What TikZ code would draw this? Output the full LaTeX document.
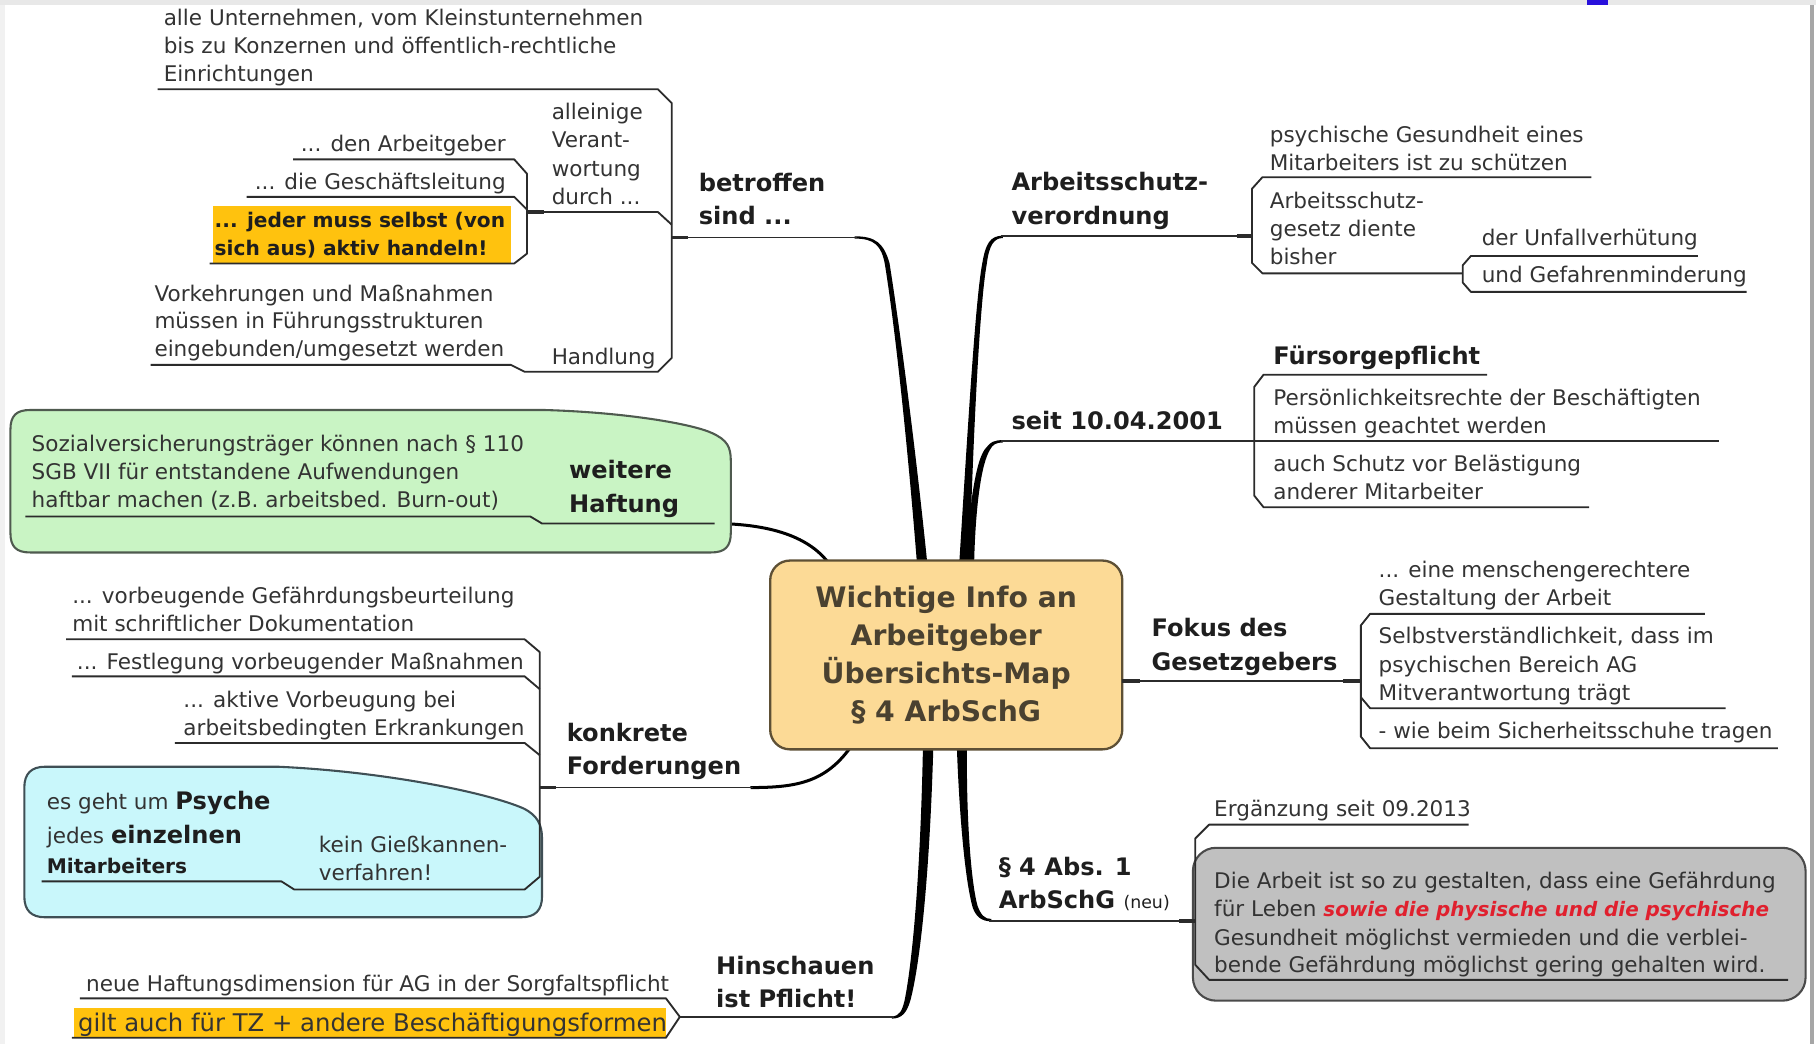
\documentclass[tikz,border=0pt]{standalone}
\usepackage{fontspec}
\setmainfont{DejaVu Sans}
\usetikzlibrary{backgrounds}
\definecolor{txt}{HTML}{333333}
\definecolor{hd}{HTML}{1E1E1E}
\definecolor{ln}{HTML}{2B2B2B}
\definecolor{cfill}{HTML}{FCDA96}
\definecolor{cborder}{HTML}{5E5035}
\definecolor{ctext}{HTML}{4A4130}
\definecolor{greenfill}{HTML}{C9F4C4}
\definecolor{greenline}{HTML}{4F5A4F}
\definecolor{cyanfill}{HTML}{C9F7FB}
\definecolor{cyanline}{HTML}{3F4F55}
\definecolor{grayfill}{HTML}{C0C0C0}
\definecolor{grayline}{HTML}{4A4A4A}
\definecolor{yellowhl}{HTML}{FFC20E}
\definecolor{redtxt}{HTML}{E0202E}
\definecolor{framegray}{HTML}{E8E8E8}
\definecolor{markblue}{HTML}{2810DC}
\newcommand\hdfont{\fontsize{10.4}{14}\selectfont\bfseries}
\newcommand\tdots{...}
\newcommand\tlines[6]{\foreach \ln [count=\k] in {#6}{\node[#2] (#1\k) at (#3,{#4+(\k-1)*#5}) {\ln};}}
\tikzset{
  body/.style={inner sep=0pt, anchor=base west, font=\fontsize{9.3}{12}\selectfont, text=txt},
  bodyb/.style={inner sep=0pt, anchor=base west, font=\fontsize{8.7}{12}\selectfont\bfseries, text=hd},
  head/.style={inner sep=0pt, anchor=base west, font=\hdfont, text=hd},
  uline/.style={line width=0.8pt, draw=ln, line join=round},
  stub/.style={line width=1.6pt, draw=ln},
  branch/.style={fill=black},
  thinbranch/.style={line width=1.3pt, draw=black},
  central/.style={draw=cborder, fill=cfill, line width=1pt, rounded corners=8.5pt,
    minimum width=152pt, minimum height=81.5pt, align=center, text=ctext,
    font=\fontsize{12.2}{16.5}\selectfont\bfseries},
}
\begin{document}
\begin{tikzpicture}[x=0.5pt,y=-0.5pt]
\useasboundingbox (0,0) rectangle (1568,901);
% frame
\fill[framegray] (0,0) rectangle (1568,4);
\fill[framegray!60] (0,4) rectangle (4,901);
\fill[markblue] (1370,0) rectangle (1388,4);
\fill[gray!70] (1563,4) rectangle (1566,901);

% central node
\node[central] (center) at (817,565.5) {Wichtige Info an\\Arbeitgeber\\Übersichts-Map\\§ 4 ArbSchG};

% callout shapes
\path[draw=greenline, fill=greenfill, line width=0.9pt] (26,354) -- (470,354) .. controls (540,356) and (598,366) .. (615,374) .. controls (628,380) and (631,386) .. (631,398) -- (631,460) .. controls (631,472) and (626,477) .. (614,477) -- (26,477) .. controls (14,477) and (9,472) .. (9,460) -- (9,371) .. controls (9,359) and (14,354) .. (26,354) -- cycle;
\path[draw=cyanline, fill=cyanfill, line width=0.9pt] (39,662) -- (240,662) .. controls (330,666) and (420,684) .. (452,698) .. controls (464,704) and (468,712) .. (468,724) -- (468,774) .. controls (468,786) and (462,792) .. (450,792) -- (39,792) .. controls (27,792) and (21,786) .. (21,774) -- (21,680) .. controls (21,668) and (27,662) .. (39,662) -- cycle;
\path[draw=grayline, fill=grayfill, line width=0.9pt, rounded corners=10pt] (1030,732) rectangle (1559,864);
\fill[yellowhl] (184,178) rectangle (441,228);
\fill[yellowhl] (64,870) rectangle (575,895);

% branches (behind central node)
\begin{scope}[on background layer]
\path[branch] (738,204) .. controls (756,204) and (763,210) .. (768,227) .. controls (778,290) and (792,400) .. (801,490) -- (792,490) .. controls (785,400) and (774,290) .. (764,228) .. controls (761,212) and (755,206) .. (738,206) -- cycle;
\path[branch] (828,490) .. controls (835,380) and (842,260) .. (848,228) .. controls (851,210) and (855,203.5) .. (866,203.5) -- (866,205.5) .. controls (858,205.5) and (854,212) .. (852,228) .. controls (846,260) and (840,380) .. (837,490) -- cycle;
\path[branch] (833,490) .. controls (837,440) and (842,395) .. (852,386) .. controls (855,382) and (858,380) .. (866,380) -- (866,382) .. controls (860,382) and (857,384) .. (855,388) .. controls (847,400) and (842,440) .. (841,490) -- cycle;
\path[branch] (797,640) .. controls (795,750) and (788,830) .. (781,864) .. controls (779,872) and (777,877.5) .. (770,877.5) -- (770,879.5) .. controls (779,879.5) and (783,874) .. (786,864) .. controls (795,830) and (803,750) .. (806,640) -- cycle;
\path[branch] (826,640) .. controls (828,700) and (833,760) .. (840,784) .. controls (843,792) and (848,795.5) .. (856,795.5) -- (856,793.5) .. controls (850,793.5) and (847,790) .. (844,782) .. controls (838,760) and (834,700) .. (835,640) -- cycle;
\draw[thinbranch] (615,452) .. controls (670,452) and (703,466) .. (718,490);
\draw[thinbranch] (648,680) .. controls (690,680) and (715,675) .. (738,640);
\end{scope}

% underline structures: betroffen sind
\draw[uline] (136,77) -- (568,77) -- (580,89) -- (580,309) -- (568,321) -- (453,321) -- (441,315) -- (130,315);
\draw[uline] (455,183) -- (568,183) -- (580,194);
\draw[uline] (253,137.6) -- (444,137.6) -- (455,150) -- (455,219) -- (444,227.5) -- (181,227.5);
\draw[uline] (213,170) -- (444,170) -- (455,181);
\draw[uline] (580,205) -- (740,205);
\draw[stub] (455,183) -- (470,183);
\draw[stub] (580,205) -- (594,205);
% Arbeitsschutzverordnung
\draw[uline] (864,204) -- (1081,204);
\draw[uline] (1374,153) -- (1090,153) -- (1081,163) -- (1081,227) -- (1090,236) -- (1263,236);
\draw[uline] (1466,221) -- (1270,221) -- (1263,229) -- (1263,244) -- (1270,252) -- (1508,252);
\draw[stub] (1068,204) -- (1081,204);
% seit 10.04.2001
\draw[uline] (864,381) -- (1484,381);
\draw[uline] (1284,323.5) -- (1091,323.5) -- (1083,334) -- (1083,428) -- (1091,438) -- (1372,438);
% Fokus
\draw[uline] (969,588) -- (1175,588);
\draw[uline] (1472,530) -- (1183,530) -- (1175,540) -- (1175,636) -- (1183,646) -- (1535,646);
\draw[uline] (1175,602) -- (1183,611.5) -- (1490,611.5);
\draw[stub] (969,588) -- (984,588);
\draw[stub] (1160,588) -- (1175,588);
% section 4
\draw[uline] (854,795) -- (1032,795);
\draw[uline] (1268,712) -- (1044,712) -- (1032,724) -- (1032,833) -- (1044,846) -- (1544,846);
\draw[stub] (1018,795) -- (1032,795);
% weitere Haftung
\draw[uline] (22,446) -- (458,446) -- (468,452) -- (617,452);
% konkrete Forderungen
\draw[uline] (57,552) -- (453,552) -- (466,563) -- (466,757) -- (453,768) -- (254,768) -- (243,761) -- (36,761);
\draw[uline] (62,584) -- (453,584) -- (466,595);
\draw[uline] (151,641.5) -- (453,641.5) -- (466,652);
\draw[uline] (466,680) -- (650,680);
\draw[stub] (466,680) -- (480,680);
% Hinschauen
\draw[uline] (69,862) -- (575,862) -- (587,878) -- (575,896) -- (62,896);
\draw[uline] (587,878) -- (772,878);

% texts: betroffen sind
\tlines{ta}{body}{141}{22}{24}{{alle Unternehmen, vom Kleinstunternehmen},{bis zu Konzernen und öffentlich-rechtliche},{Einrichtungen}}
\tlines{tb}{body}{476}{103}{24.5}{{alleinige},{Verant-},{wortung},{durch \tdots}}
\node[body, anchor=base east] (tc) at (437,131) {... den Arbeitgeber};
\node[body, anchor=base east] (td) at (437,164) {... die Geschäftsleitung};
\tlines{te}{bodyb}{185}{196}{25}{{\tdots{} jeder muss selbst (von},{sich aus) aktiv handeln!}}
\tlines{tf}{body}{133}{260}{24}{{Vorkehrungen und Maßnahmen},{müssen in Führungsstrukturen},{eingebunden/umgesetzt werden}}
\node[body] (tg) at (476,315) {Handlung};
\tlines{th}{head}{603}{165}{29}{{betroffen},{sind \tdots}}
% Arbeitsschutzverordnung
\tlines{ra}{head}{873}{164.5}{29}{{Arbeitsschutz-},{verordnung}}
\tlines{rb}{body}{1096}{123}{24}{{psychische Gesundheit eines},{Mitarbeiters ist zu schützen}}
\tlines{rc}{body}{1096}{180}{24}{{Arbeitsschutz-},{gesetz diente},{bisher}}
\node[body] (rd) at (1279,212) {der Unfallverhütung};
\node[body] (re) at (1279,244) {und Gefahrenminderung};
% seit
\node[head] (sa) at (873,371) {seit 10.04.2001};
\node[head] (sb) at (1099,315) {Fürsorgepflicht};
\tlines{sc}{body}{1099}{350}{24}{{Persönlichkeitsrechte der Beschäftigten},{müssen geachtet werden}}
\tlines{sd}{body}{1099}{407}{24}{{auch Schutz vor Belästigung},{anderer Mitarbeiter}}
% Fokus
\tlines{fa}{head}{994}{549.5}{29}{{Fokus des},{Gesetzgebers}}
\tlines{fb}{body}{1190}{499}{24}{{\tdots{} eine menschengerechtere},{Gestaltung der Arbeit}}
\tlines{fc}{body}{1190}{556}{24.5}{{Selbstverständlichkeit, dass im},{psychischen Bereich AG},{Mitverantwortung trägt}}
\node[body] (fd) at (1190,638) {- wie beim Sicherheitsschuhe tragen};
% section 4
\node[body] (pa) at (1048,705) {Ergänzung seit 09.2013};
\node[body] (pb1) at (1048,767) {Die Arbeit ist so zu gestalten, dass eine Gefährdung};
\node[body] (pb2) at (1048,791) {für Leben \textcolor{redtxt}{\fontsize{8.6}{12}\selectfont\bfseries\itshape sowie die physische und die psychische}};
\node[body] (pb3) at (1048,816) {Gesundheit möglichst vermieden und die verblei-};
\node[body] (pb4) at (1048,840) {bende Gefährdung möglichst gering gehalten wird.};
\node[head] (pc1) at (862,755.5) {§ 4 Abs. 1};
\node[head] (pc2) at (862,784.5) {ArbSchG {\mdseries\fontsize{7.5}{9}\selectfont (neu)}};
% weitere Haftung
\tlines{ga}{body}{27}{390}{24}{{Sozialversicherungsträger können nach § 110},{SGB VII für entstandene Aufwendungen},{haftbar machen (z.B. arbeitsbed. Burn-out)}}
\tlines{gb}{head}{491}{413.5}{29}{{weitere},{Haftung}}
% konkrete Forderungen
\tlines{ka}{body}{62}{521}{24}{{\tdots{} vorbeugende Gefährdungsbeurteilung},{mit schriftlicher Dokumentation}}
\node[body] (kb) at (66,578) {... Festlegung vorbeugender Maßnahmen};
\tlines{kc}{body}{158}{611}{24}{{\tdots{} aktive Vorbeugung bei},{arbeitsbedingten Erkrankungen}}
\tlines{kd}{head}{489}{640.5}{28}{{konkrete},{Forderungen}}
\node[body] (ke1) at (40,699) {es geht um {\hdfont\color{hd}Psyche}};
\node[body] (ke2) at (40,728) {jedes {\hdfont\color{hd}einzelnen}};
\node[bodyb] (ke3) at (40,754) {Mitarbeiters};
\tlines{kf}{body}{275}{736}{24}{{kein Gießkannen-},{verfahren!}}
% Hinschauen
\node[body] (ha) at (74,856) {neue Haftungsdimension für AG in der Sorgfaltspflicht};
\node[body, font=\fontsize{10.5}{12}\selectfont] (hb) at (67,891) {gilt auch für TZ + andere Beschäftigungsformen};
\tlines{hc}{head}{618}{841.5}{28}{{Hinschauen},{ist Pflicht!}}
\end{tikzpicture}
\end{document}
